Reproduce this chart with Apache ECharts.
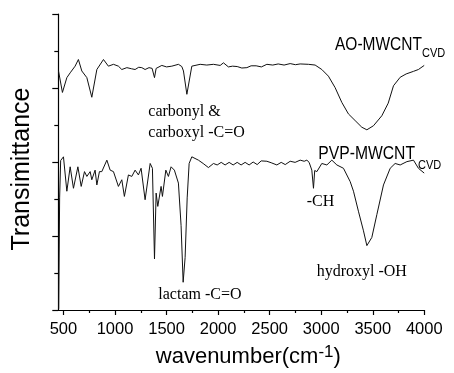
<!DOCTYPE html>
<html>
<head>
<meta charset="utf-8">
<script src="https://cdn.jsdelivr.net/npm/echarts@6/dist/echarts.min.js"></script>
<style>
html,body{margin:0;padding:0;background:#fff;}
#c{width:454px;height:373px;}
</style>
</head>
<body>
<div id="c"></div>
<script>
// ---- data (wavenumber, transmittance a.u.) ----
const aoWn = [452,490,533,565,613,645,678,727,775,824,888,936,985,1033,1066,1115,1160,1195,1230,1260,1292,1330,1360,1383,1399,1454,1500,1551,1615,1648,1664,1697,1745,1826,1890,1955,2020,2052,2100,2140,2185,2230,2279,2320,2369,2420,2473,2530,2583,2640,2699,2750,2796,2876,2941,3006,3070,3135,3200,3264,3329,3394,3443,3507,3588,3650,3701,3766,3824,3895,3943,3999];
const aoT  = [64.6,58.8,62.8,64.1,65.9,67.7,64.6,62.8,57.5,65.0,67.7,65.9,66.4,65.9,65.0,65.5,65.2,65.0,65.6,65.5,65.0,65.5,65.3,62.8,65.3,66.1,65.7,65.9,66.4,65.8,64.6,58.3,65.9,66.4,66.2,66.4,66.1,66.8,65.7,65.9,65.8,65.4,65.5,66.0,66.0,65.7,66.4,66.2,66.5,66.2,66.6,66.3,66.5,66.4,66.2,65.0,63.2,60.1,56.1,53.0,51.2,49.4,48.7,49.8,52.5,55.9,60.6,62.9,63.8,64.5,65.0,66.1];

const pvpWn = [454,463,473,500,533,565,597,640,672,704,727,759,775,807,824,849,872,921,953,985,1033,1066,1091,1130,1163,1195,1227,1253,1292,1341,1363,1383,1399,1415,1447,1460,1493,1518,1544,1576,1615,1641,1661,1680,1700,1719,1745,1809,1855,1906,1955,1991,2030,2068,2107,2146,2185,2223,2262,2301,2340,2379,2418,2473,2515,2570,2612,2651,2699,2747,2796,2835,2861,2883,2909,2925,2937,2958,3006,3055,3103,3152,3216,3281,3313,3361,3410,3443,3491,3540,3604,3669,3717,3766,3831,3895,3943,3999];
const pvpT  = [0.3,30.3,40.4,41.4,32.1,38.7,32.9,38.7,33.4,37.4,36.1,37.4,35.2,37.8,33.8,37.4,37.4,40.5,37.8,37.4,33.4,35.2,30.7,36.5,36.1,37.8,36.5,38.3,29.8,39.6,38.3,13.8,31.6,28.0,33.4,30.7,37.8,36.1,38.7,37.8,34.3,22.8,7.5,14.2,30.3,39.6,41.4,40.5,39.6,38.5,39.6,39.2,39.9,39.2,39.9,39.2,39.9,39.2,39.9,39.2,40.0,39.3,40.3,40.2,39.8,39.2,39.9,39.3,40.2,39.9,40.5,40.2,40.5,39.9,37.8,32.9,37.7,37.4,39.6,39.2,40.5,39.2,38.3,34.7,32.1,26.7,21.4,17.4,19.6,25.8,33.8,38.3,39.6,39.2,40.1,40.5,38.3,37.0];

const xMajorTicks = [500,1000,1500,2000,2500,3000,3500,4000];
const xMinorTicks = [750,1250,1750,2250,2750,3250,3750];

const seriesNames = ['AO-MWCNT', 'PVP-MWCNT'];

function pairs(xs, ys){ return xs.map((x,i)=>[x, ys[i]]); }

const chart = echarts.init(document.getElementById('c'), null, {renderer:'canvas'});
const serif = "'Liberation Serif','Times New Roman',serif";
const sans = "'Liberation Sans',Arial,sans-serif";

const option = {
  animation: false,
  backgroundColor: '#fff',
  grid: {left: 58.3, top: 14, right: 29.7, bottom: 59.7, containLabel: false},
  xAxis: [{
    type: 'value', min: 450, max: 4000, position: 'bottom',
    axisLine: {show: true, lineStyle: {color: '#000', width: 1.2}},
    axisTick: {show: true, inside: false, length: 5, customValues: xMajorTicks, lineStyle: {color: '#000', width: 1.2}},
    axisLabel: {show: true, customValues: xMajorTicks, margin: 11, color: '#000', fontFamily: sans, fontSize: 16.5,
      formatter: function (v) { return String(v); }},
    splitLine: {show: false},
    name: '{a|wavenumber(cm}{b|-1}{a|)}',
    nameLocation: 'middle', nameGap: 34,
    nameTextStyle: {
      padding: [0,0,0,14],
      rich: {
        a: {fontFamily: sans, fontSize: 22, lineHeight: 26, color: '#000'},
        b: {fontFamily: sans, fontSize: 17, lineHeight: 17, verticalAlign: 'top', color: '#000'}
      }
    }
  }, {
    type: 'value', min: 450, max: 4000, position: 'bottom', offset: 0,
    axisLine: {show: false},
    axisTick: {show: true, inside: false, length: 3, customValues: xMinorTicks, lineStyle: {color: '#000', width: 1.2}},
    axisLabel: {show: false, customValues: xMinorTicks},
    splitLine: {show: false}
  }],
  yAxis: {
    type: 'value', min: 0, max: 80, interval: 20,
    axisLine: {show: true, lineStyle: {color: '#000', width: 1.2}},
    axisTick: {show: true, inside: false, length: 6, lineStyle: {color: '#000', width: 1.2}},
    minorTick: {show: true, splitNumber: 2, length: 4, lineStyle: {color: '#000', width: 1.2}},
    axisLabel: {show: false},
    splitLine: {show: false},
    minorSplitLine: {show: false},
    name: 'Transimittance',
    nameLocation: 'middle', nameGap: 24,
    nameTextStyle: {fontFamily: sans, fontSize: 25, color: '#000', padding: [0, 14, 0, 0]}
  },
  series: [{
    name: seriesNames[0], type: 'line', xAxisIndex: 0, showSymbol: false, symbol: 'none',
    data: pairs(aoWn, aoT), lineStyle: {color: '#111', width: 1}, smooth: false
  }, {
    name: seriesNames[1], type: 'line', xAxisIndex: 0, showSymbol: false, symbol: 'none',
    data: pairs(pvpWn, pvpT), lineStyle: {color: '#111', width: 1}, smooth: false
  }],
  graphic: [
    {type:'text', x:335, y:44.7, scaleY:1.15, style:{text:'AO-MWCNT', x:0, y:0, fill:'#000', font:'15.5px '+sans, textAlign:'left', textVerticalAlign:'middle'}},
    {type:'text', x:422, y:54, scaleY:1.1, style:{text:'CVD', x:0, y:0, fill:'#000', font:'11px '+sans, textAlign:'left', textVerticalAlign:'middle'}},
    {type:'text', x:318.3, y:154, scaleY:1.15, style:{text:'PVP-MWCNT', x:0, y:0, fill:'#000', font:'15.7px '+sans, textAlign:'left', textVerticalAlign:'middle'}},
    {type:'text', x:418, y:166, scaleY:1.1, style:{text:'CVD', x:0, y:0, fill:'#000', font:'11px '+sans, textAlign:'left', textVerticalAlign:'middle'}},
    {type:'text', x:148.3, y:112, style:{text:'carbonyl &', fill:'#000', font:'16px '+serif, textAlign:'left', textVerticalAlign:'middle'}},
    {type:'text', x:148.3, y:132.5, style:{text:'carboxyl -C=O', fill:'#000', font:'16px '+serif, textAlign:'left', textVerticalAlign:'middle'}},
    {type:'text', x:158.3, y:295, style:{text:'lactam -C=O', fill:'#000', font:'16px '+serif, textAlign:'left', textVerticalAlign:'middle'}},
    {type:'text', x:306.7, y:201.4, style:{text:'-CH', fill:'#000', font:'16px '+serif, textAlign:'left', textVerticalAlign:'middle'}},
    {type:'text', x:316.7, y:272, style:{text:'hydroxyl -OH', fill:'#000', font:'16px '+serif, textAlign:'left', textVerticalAlign:'middle'}}
  ]
};
chart.setOption(option);
</script>
</body>
</html>
